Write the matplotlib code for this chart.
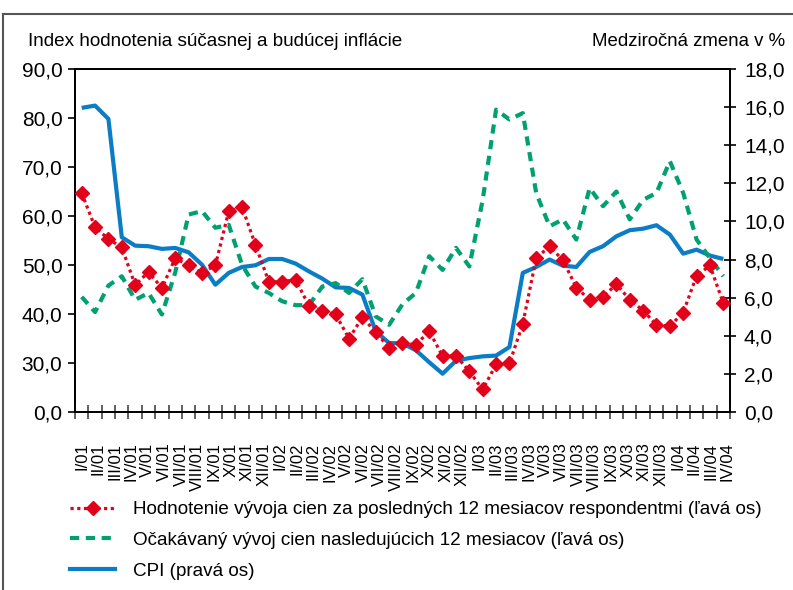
import matplotlib
matplotlib.use('Agg')
import matplotlib.pyplot as plt
from matplotlib.lines import Line2D
import numpy as np

plt.rcParams['font.family'] = ['Liberation Sans Narrow', 'Liberation Sans', 'DejaVu Sans']

# Month labels on the x axis
months = ['I/01', 'II/01', 'III/01', 'IV/01', 'V/01', 'VI/01', 'VII/01', 'VIII/01', 'IX/01', 'X/01',
          'XI/01', 'XII/01', 'I/02', 'II/02', 'III/02', 'IV/02', 'V/02', 'VI/02', 'VII/02', 'VIII/02',
          'IX/02', 'X/02', 'XI/02', 'XII/02', 'I/03', 'II/03', 'III/03', 'IV/03', 'V/03', 'VI/03',
          'VII/03', 'VIII/03', 'IX/03', 'X/03', 'XI/03', 'XII/03', 'I/04', 'II/04', 'III/04', 'IV/04']

# Hodnotenie vyvoja cien za poslednych 12 mesiacov (left axis)
past = [64.7, 57.7, 55.3, 53.6, 45.9, 48.6, 45.3, 51.4, 49.9, 48.4,
        49.9, 61.0, 61.8, 54.1, 46.6, 46.6, 47.0, 41.7, 40.7, 39.9,
        35.0, 39.3, 36.3, 33.1, 34.1, 33.7, 36.5, 31.4, 31.5, 28.3,
        24.6, 29.7, 29.9, 38.0, 51.4, 53.8, 51.0, 45.4, 42.9, 43.5,
        46.1, 42.9, 40.7, 37.8, 37.5, 40.3, 47.8, 49.9, 42.2]

# Ocakavany vyvoj cien nasledujucich 12 mesiacov (left axis)
expected = [43.5, 40.4, 45.8, 47.7, 42.9, 44.3, 39.9, 48.5, 60.3, 61.0,
            57.6, 58.2, 50.0, 45.6, 44.3, 42.6, 41.8, 41.8, 45.6, 46.3,
            44.3, 47.1, 39.5, 37.8, 42.0, 44.3, 51.8, 49.0, 53.5, 49.7,
            63.3, 81.7, 79.7, 81.0, 64.7, 57.9, 59.3, 55.2, 65.7, 62.0,
            65.0, 59.3, 63.3, 64.7, 71.2, 64.7, 55.2, 51.4, 47.7]

# CPI, medzirocna zmena v % (right axis)
cpi = [15.96, 16.08, 15.38, 9.17, 8.73, 8.70, 8.56, 8.61, 8.38, 7.73,
       6.68, 7.30, 7.61, 7.70, 8.03, 8.03, 7.79, 7.38, 7.00, 6.54,
       6.51, 6.16, 4.23, 3.62, 3.60, 3.24, 2.61, 2.01, 2.69, 2.83,
       2.92, 2.96, 3.41, 7.30, 7.61, 8.00, 7.68, 7.61, 8.40, 8.70,
       9.22, 9.54, 9.62, 9.80, 9.31, 8.31, 8.52, 8.21, 8.03]

left_ticks = [20, 30, 40, 50, 60, 70, 80, 90]
left_labels = ['0,0', '30,0', '40,0', '50,0', '60,0', '70,0', '80,0', '90,0']
right_ticks = list(range(0, 19, 2))

red = '#E2001A'
green = '#00A070'
blue = '#0A7DC6'

n = len(past)
x = np.arange(n) + 0.5

fig = plt.figure(figsize=(7.93, 5.9), dpi=100)
ax = fig.add_axes([75 / 793, 1 - 412 / 590, 655 / 793, 343 / 590])
ax2 = ax.twinx()

ax.plot(x, expected, color=green, lw=3, dashes=(2.2, 1.6), zorder=2)
ax.plot(x, past, color=red, lw=2.3, dashes=(1, 1.1), marker='D', ms=7.5,
        mec=red, mfc=red, zorder=3)
ax2.plot(x, cpi, color=blue, lw=3, solid_capstyle='butt')
ax.set_zorder(ax2.get_zorder() + 1)
ax.patch.set_visible(False)

ax.set_xlim(0, n)
ax.set_ylim(20, 90)
ax2.set_ylim(0, 18)

ax.set_yticks(left_ticks)
ax.set_yticklabels(left_labels, fontsize=15)
ax2.set_yticks(right_ticks)
ax2.set_yticklabels([f'{v:.1f}'.replace('.', ',') for v in right_ticks], fontsize=15)
ax.tick_params(axis='y', direction='out', length=5, width=1.2, pad=4)
ax2.tick_params(axis='y', direction='inout', length=8, width=1.2, pad=6)

# tick marks between months, labels spread evenly along the axis
ax.set_xticks(np.arange(0, n + 1), minor=True)
ax.set_xticks(np.linspace(0.5, n - 0.2, len(months)))
ax.set_xticklabels(months, rotation=90, fontsize=12)
ax.tick_params(axis='x', which='major', length=0, pad=22)
ax.tick_params(axis='x', which='minor', direction='inout', length=10, width=1.2, color='#444444')

for a in (ax, ax2):
    for s in a.spines.values():
        s.set_linewidth(1.3)

fig.text(28 / 793, 1 - 42 / 590, 'Index hodnotenia súčasnej a budúcej inflácie',
         fontsize=13.6, va='center', ha='left')
fig.text(785 / 793, 1 - 42 / 590, 'Medziročná zmena v %',
         fontsize=13.4, va='center', ha='right')

handles = [
    Line2D([], [], color=red, lw=2.3, dashes=(1, 1.1), marker='D', ms=7.5),
    Line2D([], [], color=green, lw=3, dashes=(2.2, 1.6)),
    Line2D([], [], color=blue, lw=3),
]
labels = ['Hodnotenie vývoja cien za posledných 12 mesiacov respondentmi (ľavá os)',
          'Očakávaný vývoj cien nasledujúcich 12 mesiacov (ľavá os)',
          'CPI (pravá os)']
fig.legend(handles, labels, loc='upper left', bbox_to_anchor=(53 / 793, 1 - 484 / 590),
           frameon=False, fontsize=13.6, handlelength=2.4, handletextpad=0.95,
           labelspacing=0.72, numpoints=1)

# outer frame lines
fig.add_artist(Line2D([3 / 793, 3 / 793], [0, 1 - 14 / 590], color='#555555', lw=1.5))
fig.add_artist(Line2D([3 / 793, 1], [1 - 14 / 590, 1 - 14 / 590], color='#555555', lw=1.5))

fig.savefig('out.png', dpi=100)
